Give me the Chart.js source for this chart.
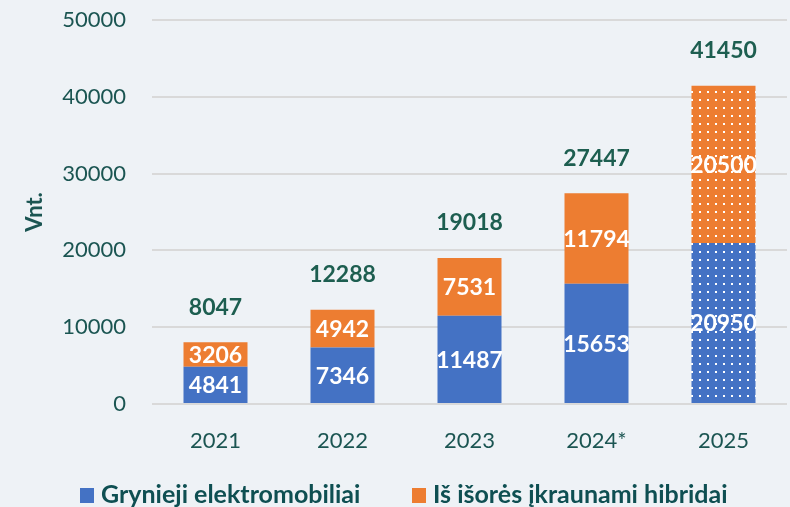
<!DOCTYPE html>
<html>
<head>
<meta charset="utf-8">
<script src="https://cdn.jsdelivr.net/npm/chart.js@4"></script>
<style>
  html, body { margin: 0; padding: 0; background: #eef2f6; }
  canvas { display: block; }
</style>
</head>
<body>
<canvas id="myChart" width="790" height="507"></canvas>
<script>
// data
const years = ["2021", "2022", "2023", "2024*", "2025"];
const bevValues = [4841, 7346, 11487, 15653, 20950];
const phevValues = [3206, 4942, 7531, 11794, 20500];
const totals = [8047, 12288, 19018, 27447, 41450];
const seriesNames = ["Grynieji elektromobiliai", "Iš išorės įkraunami hibridai"];
const yTicks = [0, 10000, 20000, 30000, 40000, 50000];

const BLUE = "#4472c4";
const ORANGE = "#ed7d31";
const TEAL = "#1b5552";
const FONT = "Lato, 'Open Sans', sans-serif";

// dotted fill for the forecast year
function dotted(color) {
    const c = document.createElement("canvas");
    c.width = 8;
    c.height = 8;
    const g = c.getContext("2d");
    g.fillStyle = color;
    g.fillRect(0, 0, 8, 8);
    g.fillStyle = "#ffffff";
    g.fillRect(3, 3, 2, 2);
    return g.createPattern(c, "repeat");
}

const fills = (color) => years.map((y, i) => i === years.length - 1 ? dotted(color) : color);

const labelsPlugin = {
    id: "labels",
    afterDatasetsDraw(chart) {
        const ctx = chart.ctx;
        ctx.save();
        ctx.textAlign = "center";
        ctx.textBaseline = "middle";
        ctx.font = "bold 23px " + FONT;
        ctx.fillStyle = "#ffffff";
        chart.data.datasets.forEach((ds, di) => {
            chart.getDatasetMeta(di).data.forEach((bar, i) => {
                ctx.fillText(ds.data[i], bar.x, (bar.y + bar.base) / 2 + 1);
            });
        });
        const top = chart.getDatasetMeta(1).data;
        ctx.fillStyle = "#1d5e50";
        top.forEach((bar, i) => {
            ctx.fillText(totals[i], bar.x, bar.y - 35);
        });
        ctx.restore();
    }
};

// legend drawn by hand so it sits like the original
const legendPlugin = {
    id: "customLegend",
    afterDraw(chart) {
        const ctx = chart.ctx;
        const items = [
            {x: 80, color: BLUE, text: seriesNames[0], w: 261},
            {x: 412, color: ORANGE, text: seriesNames[1], w: 296}
        ];
        ctx.save();
        ctx.textBaseline = "alphabetic";
        ctx.font = "bold 25px " + FONT;
        items.forEach((it) => {
            ctx.fillStyle = it.color;
            ctx.fillRect(it.x, 488, 14, 15);
            ctx.fillStyle = "#0e4f52";
            ctx.save();
            ctx.translate(it.x + 21, 503);
            ctx.scale(Math.min(1, it.w / ctx.measureText(it.text).width), 1);
            ctx.fillText(it.text, 0, 0);
            ctx.restore();
        });
        ctx.restore();
    }
};

const ctx = document.getElementById("myChart").getContext("2d");
new Chart(ctx, {
    type: "bar",
    data: {
        labels: years,
        datasets: [
            {
                label: seriesNames[0],
                data: bevValues,
                backgroundColor: fills(BLUE),
                barPercentage: 0.504,
                categoryPercentage: 1
            },
            {
                label: seriesNames[1],
                data: phevValues,
                backgroundColor: fills(ORANGE),
                barPercentage: 0.504,
                categoryPercentage: 1
            }
        ]
    },
    options: {
        responsive: false,
        animation: false,
        layout: {padding: {top: 20, right: 3, left: 0, bottom: 0}},
        plugins: {
            legend: {display: false},
            tooltip: {enabled: false}
        },
        scales: {
            x: {
                stacked: true,
                grid: {display: false},
                border: {display: false},
                ticks: {
                    color: TEAL,
                    padding: 16,
                    font: {family: FONT, size: 22}
                },
                afterFit: (axis) => { axis.height = 103; }
            },
            y: {
                stacked: true,
                min: 0,
                max: 50000,
                afterBuildTicks: (axis) => { axis.ticks = yTicks.map((v) => ({value: v})); },
                grid: {color: "#d9d9d9", lineWidth: 2, drawTicks: false},
                border: {display: false},
                ticks: {
                    color: TEAL,
                    padding: 26,
                    font: {family: FONT, size: 22},
                    callback: (v) => String(v)
                },
                title: {
                    display: true,
                    text: "Vnt.",
                    color: TEAL,
                    padding: {top: 22, bottom: 0},
                    font: {family: FONT, size: 22, weight: "bold"}
                },
                afterFit: (axis) => {
                    axis.width = 152;
                    axis.paddingTop = 0;
                    axis.paddingBottom = 0;
                }
            }
        }
    },
    plugins: [labelsPlugin, legendPlugin]
});
</script>
</body>
</html>
